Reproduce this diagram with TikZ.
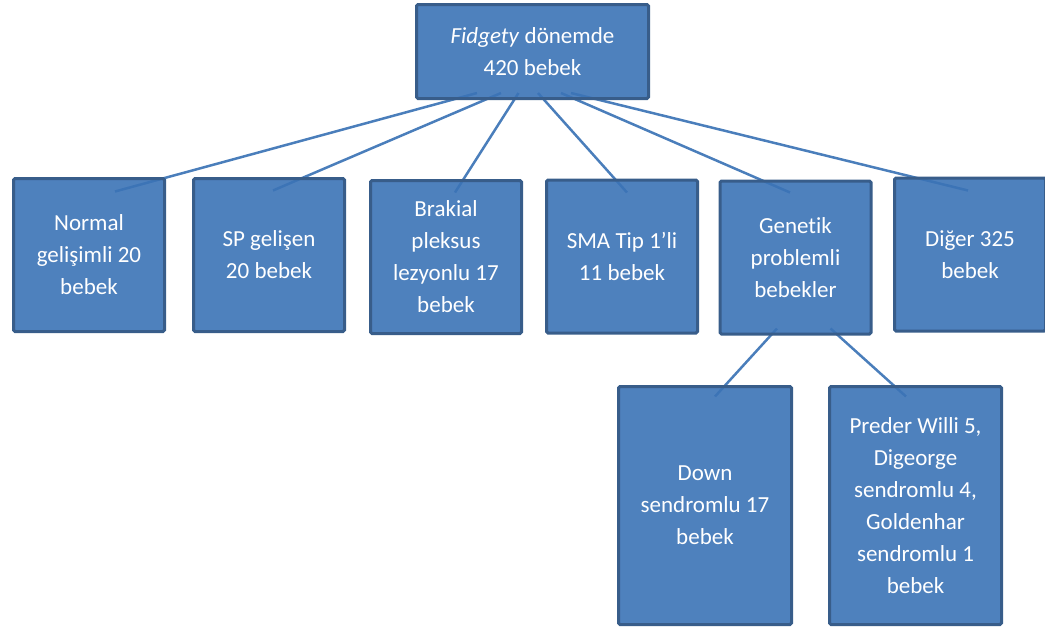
\documentclass[tikz,border=0pt]{standalone}
\usepackage{fontspec}
\setmainfont{Carlito}[Ligatures=NoCommon]
\usetikzlibrary{calc,backgrounds}

% fill is mixed a little with white through the opacity below
\definecolor{boxfill}{RGB}{59,115,182}
\definecolor{boxedge}{RGB}{56,93,138}
\definecolor{linkcol}{RGB}{74,126,187}

\begin{document}
\begin{tikzpicture}[x=1pt, y=-1pt,
  box/.style={draw=boxedge, line width=3pt, fill=boxfill, fill opacity=0.9,
    text opacity=1, text=white, align=center, inner sep=0pt,
    rounded corners=1.5pt, font=\fontsize{23}{32}\selectfont},
  leaf/.style={box, minimum width=151pt, minimum height=153pt},
  tall/.style={box, minimum width=173pt, minimum height=238pt},
  link/.style={draw=linkcol, line width=2.5pt}]
  \useasboundingbox (0,0) rectangle (1045,630);

  % root and first level
  \node[box, minimum width=232pt, minimum height=94pt] (top) at (532.5,51.5)
    {\textit{Fidgety} dönemde\\420 bebek};
  \node[leaf] (norm) at (89,255)    {Normal\\gelişimli 20\\bebek};
  \node[leaf] (sp)   at (269,255)   {SP gelişen\\20 bebek};
  \node[leaf] (brak) at (446,257)   {Brakial\\pleksus\\lezyonlu 17\\bebek};
  \node[leaf] (sma)  at (622,256.5) {SMA Tip 1’li\\11 bebek};
  \node[leaf] (gen)  at (795.5,257.5) {Genetik\\problemli\\bebekler};
  \node[leaf] (dig)  at (970,254.5) {Diğer 325\\bebek};

  % genetic subgroups
  \node[tall] (down) at (705,505.5) {Down\\sendromlu 17\\bebek};
  \node[tall, minimum width=172pt] (prad) at (915.5,505.5)
    {Preder Willi 5,\\Digeorge\\sendromlu 4,\\Goldenhar\\sendromlu 1\\bebek};

  \begin{scope}[on background layer]
  \path[link]
    ($(top.south)+(-55.5,-7)$) edge ($(norm.north)+(26,14.5)$)
    ($(top.south)+(-31.5,-7)$) edge ($(sp.north)+(4,13.5)$)
    ($(top.south)+(-14,-7)$)   edge ($(brak.north)+(9,13.5)$)
    ($(top.south)+(5.5,-7)$)   edge ($(sma.north)+(5,14)$)
    ($(top.south)+(28.5,-7)$)  edge ($(gen.north)+(-5.5,13)$)
    ($(top.south)+(38.5,-7)$)  edge ($(dig.north)+(-2,14)$)
    ($(gen.south)+(-18.5,-7)$) edge ($(down.north)+(10,11.5)$)
    ($(gen.south)+(35,-7)$)    edge ($(prad.north)+(-9.5,11.5)$)
    ;
  \end{scope}
\end{tikzpicture}
\end{document}
